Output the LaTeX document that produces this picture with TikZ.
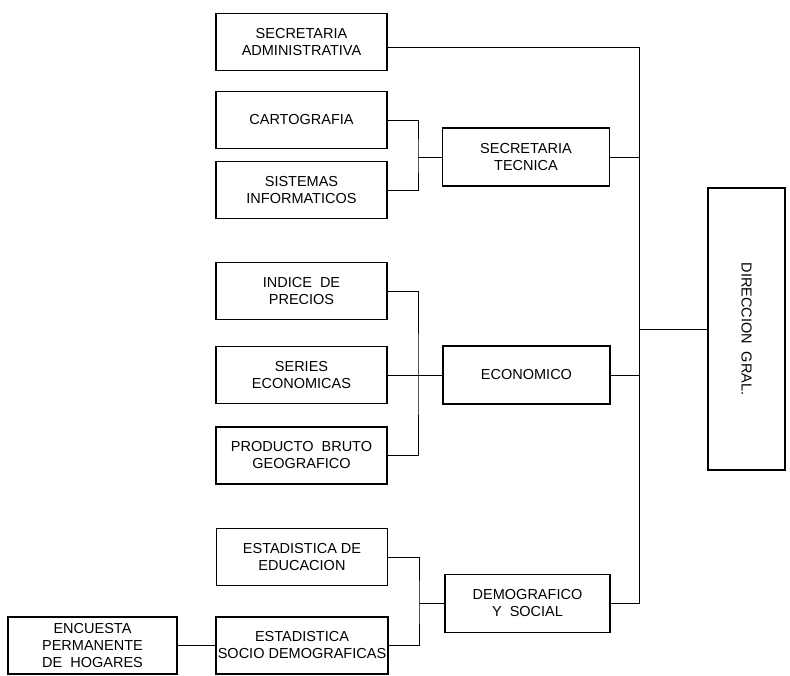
\documentclass[tikz,border=0pt]{standalone}
\usepackage{fontspec}
\setmainfont{Liberation Sans}
\begin{document}
\begin{tikzpicture}[x=1pt,y=-1pt,
		unit/.style={draw,line width=1.6pt,align=center,font=\fontsize{14.5}{17}\selectfont,inner sep=2pt,minimum width=171pt,minimum height=57pt},
		area/.style={unit,minimum width=167pt,minimum height=58pt},
		link/.style={thick}]
	\useasboundingbox (0,0) rectangle (790,676);
	% left column
	\node[unit] (secadm) at (301.5,42) {SECRETARIA\\ADMINISTRATIVA};
	\node[unit] (carto) at (301.5,120) {CARTOGRAFIA};
	\node[unit] (sist) at (301.5,190) {SISTEMAS\\INFORMATICOS};
	\node[unit] (indice) at (301.5,291) {INDICE\ \ DE\\PRECIOS};
	\node[unit] (series) at (301.5,375) {SERIES\\ECONOMICAS};
	\node[unit] (producto) at (301.5,455.5) {PRODUCTO\ \ BRUTO\\GEOGRAFICO};
	\node[unit] (esteduc) at (302,557) {ESTADISTICA DE\\EDUCACION};
	\node[unit] (estsocio) at (302,645.5) {ESTADISTICA\\SOCIO DEMOGRAFICAS};
	\node[unit,minimum width=169pt] (encuesta) at (92.5,645.5) {ENCUESTA\\PERMANENTE\\DE\ \ HOGARES};
	% middle column
	\node[area] (sectec) at (526,157) {SECRETARIA\\TECNICA};
	\node[area] (economico) at (526.5,375) {ECONOMICO};
	\node[area,minimum width=165pt] (demog) at (527.5,603.5) {DEMOGRAFICO\\Y\ \ SOCIAL};
	% top
	\node[unit,rotate=-90,minimum width=282pt,minimum height=77pt] (direccion) at (746.5,329) {DIRECCION\ \ GRAL.};
	% joints
	\coordinate (tecj) at (418,157);
	\coordinate (ecoj) at (418,375);
	\coordinate (demj) at (419,603.5);
	\coordinate (bustop) at (639,47);
	\coordinate (busbot) at (639,603.5);
	\draw[link] (carto.east) -| (tecj) |- (sist.east);
	\draw[link] (tecj) -- (sectec.west);
	\draw[link] (indice.east) -| (ecoj) |- (producto.east);
	\draw[link] (series.east) -- (economico.west);
	\draw[link] (esteduc.east) -| (demj) |- (estsocio.east);
	\draw[link] (demj) -- (demog.west);
	\draw[link] (encuesta.east) -- (estsocio.west);
	\draw[link] ([yshift=-5pt]secadm.east) -- (bustop) -- (busbot) -- (demog.east);
	\draw[link] (sectec.east) -- (sectec.east -| bustop);
	\draw[link] (economico.east) -- (economico.east -| bustop);
	\draw[link] (direccion.south) -- (direccion.south -| bustop);
\end{tikzpicture}
\end{document}
